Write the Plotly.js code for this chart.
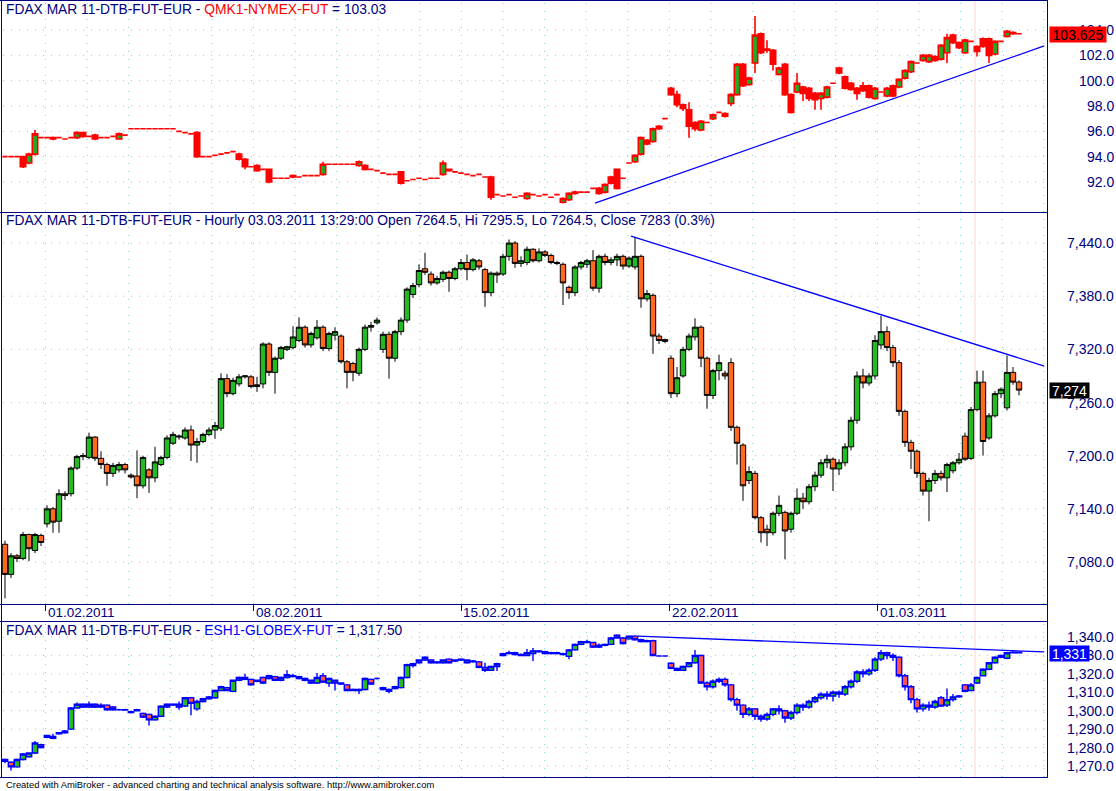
<!DOCTYPE html>
<html>
<head>
<meta charset="utf-8">
<script src="https://cdn.plot.ly/plotly-3.0.1.min.js"></script>
<style>
html,body{margin:0;padding:0;background:#ffffff;overflow:hidden;}
#chart{width:1116px;height:791px;}
</style>
</head>
<body>
<div id="chart"></div>
<script>
// ================= DATA (hourly bars) =================
// Panel 2: FDAX MAR 11 (main)
const fdaxOpen = [
7100,7066,7087,7084,7111,7093,7110,7123,7140,7126,
7157,7157,7186,7199,7198,7221,7197,7190,7180,7184,
7190,7178,7177,7166,7184,7175,7190,7198,7214,7221,
7220,7229,7212,7216,7224,7229,7231,7287,7270,7281,
7289,7289,7278,7281,7326,7294,7310,7320,7322,7330,
7345,7325,7333,7345,7321,7336,7335,7306,7304,7293,
7320,7345,7350,7320,7337,7310,7340,7353,7382,7393,
7411,7405,7395,7399,7407,7400,7411,7418,7410,7420,
7410,7384,7406,7405,7425,7440,7417,7418,7433,7420,
7430,7426,7418,7416,7390,7384,7413,7416,7420,7389,
7425,7418,7421,7425,7414,7413,7425,7377,7381,7335,
7331,7310,7270,7290,7320,7334,7345,7310,7268,7296,
7293,7305,7232,7212,7172,7180,7130,7117,7113,7135,
7136,7117,7135,7152,7148,7165,7178,7192,7196,7185,
7192,7210,7240,7290,7282,7290,7325,7340,7322,7305,
7250,7215,7205,7180,7160,7172,7180,7175,7183,7192,
7222,7197,7252,7283,7220,7245,7270,7254,7294,7283];
const fdaxHigh = [
7104,7090,7089,7114,7112,7113,7112,7144,7142,7162,
7160,7188,7201,7203,7226,7222,7205,7192,7192,7193,
7192,7180,7206,7200,7186,7210,7200,7223,7227,7224,
7232,7234,7220,7226,7232,7238,7293,7292,7288,7292,
7291,7291,7289,7328,7328,7312,7324,7324,7346,7356,
7347,7340,7353,7347,7340,7345,7337,7308,7306,7322,
7348,7351,7356,7340,7340,7342,7356,7390,7395,7416,
7429,7408,7403,7409,7409,7413,7422,7427,7423,7422,
7412,7408,7408,7428,7444,7442,7425,7436,7434,7434,
7432,7428,7420,7418,7392,7415,7420,7422,7432,7427,
7428,7424,7428,7427,7425,7447,7427,7387,7383,7338,
7332,7313,7300,7323,7338,7355,7347,7312,7298,7314,
7296,7310,7234,7214,7188,7183,7132,7122,7137,7155,
7138,7137,7163,7158,7168,7182,7196,7201,7198,7196,
7214,7244,7295,7298,7293,7336,7358,7346,7325,7308,
7252,7218,7207,7182,7175,7184,7183,7192,7194,7203,
7226,7255,7296,7296,7248,7273,7277,7313,7300,7285];
const fdaxLow = [
7039,7062,7080,7082,7081,7090,7098,7119,7113,7113,
7150,7154,7184,7195,7196,7194,7185,7166,7176,7181,
7180,7174,7152,7163,7158,7170,7188,7196,7212,7218,
7218,7194,7192,7214,7222,7219,7228,7266,7268,7278,
7287,7276,7272,7276,7290,7270,7308,7318,7320,7328,
7322,7322,7331,7318,7318,7330,7304,7276,7284,7290,
7318,7340,7348,7316,7287,7306,7336,7350,7378,7390,
7404,7392,7393,7396,7385,7398,7409,7398,7408,7410,
7368,7380,7395,7403,7420,7412,7413,7415,7418,7418,
7424,7416,7415,7370,7377,7380,7410,7412,7386,7384,
7415,7415,7414,7410,7412,7410,7367,7374,7315,7326,
7327,7265,7266,7288,7318,7330,7300,7253,7264,7285,
7286,7228,7190,7149,7168,7128,7102,7098,7110,7132,
7083,7113,7133,7140,7145,7160,7175,7186,7160,7178,
7188,7206,7236,7276,7279,7286,7320,7318,7300,7245,
7210,7185,7175,7155,7126,7168,7172,7159,7180,7190,
7194,7195,7250,7200,7218,7243,7265,7251,7280,7268];
const fdaxClose = [
7066,7087,7084,7111,7095,7111,7102,7140,7125,7157,
7155,7186,7199,7200,7221,7197,7190,7180,7189,7190,
7184,7176,7166,7198,7175,7193,7198,7220,7224,7222,
7229,7212,7216,7224,7229,7234,7287,7270,7285,7289,
7290,7278,7280,7326,7294,7310,7322,7323,7334,7345,
7325,7338,7345,7321,7338,7340,7306,7294,7294,7320,
7345,7347,7353,7337,7310,7340,7353,7388,7392,7409,
7407,7395,7400,7407,7400,7411,7418,7410,7421,7413,
7384,7406,7404,7425,7440,7417,7420,7433,7420,7430,
7426,7418,7417,7395,7384,7413,7418,7420,7389,7425,
7418,7421,7425,7414,7423,7425,7377,7383,7335,7330,
7329,7270,7288,7320,7335,7345,7310,7268,7296,7305,
7290,7232,7214,7166,7182,7130,7113,7113,7135,7144,
7115,7135,7152,7148,7165,7178,7192,7196,7185,7192,
7210,7240,7290,7282,7290,7330,7340,7322,7305,7250,
7215,7205,7180,7160,7172,7180,7175,7190,7192,7196,
7196,7252,7283,7216,7245,7270,7275,7294,7283,7274];

// Panel 1: QMK1-NYMEX-FUT
const qmOpen = [
94.0,94.0,94.0,94.0,93.5,94.2,95.5,95.5,95.4,95.5,
95.4,95.5,95.5,95.9,95.6,95.7,95.5,95.5,95.6,95.4,
95.7,96.2,96.2,96.2,96.2,96.2,96.2,96.2,96.2,96.0,
95.9,95.8,95.9,94.0,94.0,94.1,94.2,94.3,94.4,94.2,
93.8,93.2,93.3,93.0,93.0,92.3,92.3,92.3,92.4,92.4,
92.5,92.5,92.5,92.6,93.4,93.4,93.4,93.4,93.4,93.3,
93.3,93.0,92.9,92.7,92.6,92.6,92.8,92.1,92.2,92.3,
92.2,92.3,92.3,92.6,93.0,92.8,92.7,92.6,92.5,92.6,
92.4,92.4,91.0,90.9,91.0,90.8,90.9,90.7,91.0,90.9,
91.0,90.8,91.0,90.4,90.6,91.1,91.2,91.2,91.5,91.5,
91.2,92.4,93.0,92.3,93.5,93.6,94.2,95.3,95.2,96.2,
97.0,99.4,98.9,98.1,97.7,96.7,96.1,96.7,97.0,97.5,
97.2,98.2,98.9,101.3,99.7,101.4,103.7,102.5,102.4,100.5,
101.3,98.9,99.1,99.5,99.4,99.0,98.6,98.7,99.8,101.0,
100.3,99.8,99.4,99.6,99.6,98.6,99.1,98.8,99.6,99.5,
100.2,100.7,101.4,101.6,101.5,101.9,101.7,102.2,103.6,103.0,
102.2,103.1,102.7,103.3,103.3,102.1,103.1,103.5,103.8,103.7];
const qmHigh = [
94.0,94.0,94.0,94.0,94.3,96.1,95.5,95.5,95.6,95.5,
95.4,95.5,96.0,95.9,95.6,95.8,95.5,95.5,95.6,95.9,
95.7,96.2,96.2,96.2,96.2,96.2,96.2,96.2,96.2,96.0,
95.9,95.8,96.0,94.0,94.0,94.1,94.2,94.3,94.4,94.3,
93.9,93.2,93.4,93.0,93.0,92.3,92.3,92.3,92.6,92.4,
92.5,92.5,92.5,93.6,93.4,93.4,93.4,93.4,93.4,93.7,
93.4,93.0,92.9,92.7,92.6,92.6,92.8,92.1,92.2,92.3,
92.2,92.3,92.3,93.7,93.0,92.8,92.7,92.6,92.5,92.6,
92.4,92.5,91.0,90.9,91.0,90.8,90.9,91.2,91.0,90.9,
91.0,90.8,91.0,90.8,91.2,91.3,91.2,91.2,91.5,91.6,
91.9,92.5,93.0,92.3,93.5,94.2,95.6,95.4,96.3,96.5,
97.0,99.5,99.2,98.2,98.3,96.8,96.9,96.7,97.4,97.5,
97.5,99.0,101.4,101.4,100.3,105.1,103.8,103.2,102.5,101.1,
101.4,99.0,100.6,99.6,99.5,99.1,99.1,99.6,99.8,101.1,
100.4,99.9,99.5,99.9,99.7,99.5,99.1,99.5,99.7,100.2,
100.9,101.6,101.4,102.1,102.1,102.0,102.9,103.7,103.7,103.1,
103.3,103.1,102.8,103.4,103.4,103.2,103.1,104.0,103.9,103.7];
const qmLow = [
94.0,94.0,94.0,93.1,93.4,94.1,95.5,95.5,95.3,95.5,
95.4,95.5,95.4,95.5,95.6,95.3,95.5,95.5,95.6,95.4,
95.7,96.2,96.2,96.2,96.2,96.2,96.2,96.2,96.2,96.0,
95.9,95.8,93.9,94.0,94.0,94.1,94.2,94.3,94.4,93.7,
93.0,93.2,92.8,93.0,91.9,92.3,92.3,92.3,92.3,92.4,
92.5,92.5,92.5,92.5,93.4,93.4,93.4,93.4,93.4,93.2,
92.9,93.0,92.9,92.7,92.6,92.6,91.8,92.1,92.2,92.3,
92.2,92.3,92.3,92.5,92.8,92.8,92.7,92.6,92.5,92.6,
92.4,90.6,91.0,90.9,91.0,90.8,90.9,90.6,91.0,90.9,
91.0,90.8,91.0,90.3,90.5,91.0,91.2,91.2,91.5,91.0,
91.1,91.8,91.4,92.3,93.5,93.5,94.1,94.9,95.1,96.1,
97.0,98.8,97.9,97.6,95.5,96.0,96.0,96.7,96.9,97.5,
97.1,98.0,98.8,99.5,99.6,100.6,102.1,102.2,100.8,100.4,
98.8,97.4,99.0,98.4,98.4,97.7,97.7,98.6,99.8,100.5,
99.3,99.2,98.5,99.1,98.6,98.5,99.1,98.7,98.7,99.4,
100.1,100.6,101.4,101.5,101.4,101.5,101.6,101.4,102.9,102.5,
102.1,103.1,101.9,102.6,101.4,102.0,103.1,103.4,103.6,103.7];
const qmClose = [
94.0,94.0,94.0,93.2,94.2,95.8,95.5,95.5,95.5,95.5,
95.4,95.5,95.9,95.6,95.6,95.4,95.5,95.5,95.6,95.8,
95.7,96.2,96.2,96.2,96.2,96.2,96.2,96.2,96.2,96.0,
95.9,95.8,94.0,94.0,94.0,94.1,94.2,94.3,94.4,93.8,
93.2,93.2,92.9,93.0,92.0,92.3,92.3,92.3,92.5,92.4,
92.5,92.5,92.5,93.4,93.4,93.4,93.4,93.4,93.4,93.6,
93.0,93.0,92.9,92.7,92.6,92.6,91.9,92.1,92.2,92.3,
92.2,92.3,92.3,93.5,92.9,92.8,92.7,92.6,92.5,92.6,
92.4,90.8,91.0,90.9,91.0,90.8,90.9,91.1,91.0,90.9,
91.0,90.8,91.0,90.7,91.1,91.2,91.2,91.2,91.5,91.1,
91.8,91.9,91.5,92.3,93.5,94.1,95.5,95.0,96.2,96.4,
97.0,98.9,98.1,97.8,96.4,96.2,96.8,96.7,97.3,97.5,
97.4,98.9,101.3,99.6,100.2,103.6,102.2,102.4,101.3,101.0,
98.9,97.5,99.8,99.0,98.6,98.5,99.0,99.5,99.8,100.6,
99.4,99.3,99.0,99.2,98.7,99.4,99.1,99.4,98.8,100.1,
100.8,101.5,101.4,102.0,102.0,101.6,102.8,103.4,103.0,102.6,
103.2,103.1,102.3,102.7,102.0,103.1,103.1,103.9,103.7,103.7];

// Panel 3: ESH1-GLOBEX-FUT
const esOpen = [
1273.5,1272,1269.5,1273.5,1275,1277,1281.5,1285.5,1286,1287.5,
1288,1290,1301.5,1303.5,1302,1303.5,1302,1303,1302,1300.5,
1300.5,1299.5,1300,1298.5,1298,1295,1297,1302,1303,1303.5,
1302.5,1307,1301,1305,1306.5,1307,1311,1312.5,1310.5,1316.5,
1318,1317,1316,1318,1317.5,1318.5,1316.5,1318,1319,1318.5,
1317.5,1316.5,1315,1319,1315,1316.5,1315,1314,1311.5,1311,
1311.5,1317,1317.5,1312.5,1311.5,1312,1312.5,1318,1324.5,1326,
1327.5,1327.5,1326,1326,1328,1327,1327.5,1326,1327,1326.5,
1323.5,1322,1324,1330,1331,1331.5,1330.5,1330,1331,1332.5,
1332,1331,1331.5,1331,1329.5,1333,1336,1337.5,1337,1334.5,
1335.5,1336,1341,1339.5,1339,1340.5,1338.5,1337.5,1338,1329.7,
1329.7,1325.8,1323,1322,1324,1326,1330,1315,1313,1316,
1317,1314,1306,1303,1298,1301,1297,1295.5,1298,1301,
1300,1296,1299,1303,1302,1305,1307,1309,1308,1310,
1309,1313,1316,1321,1320,1322,1328,1331.5,1330,1329,
1319,1313,1306,1301,1303,1302,1307,1303,1306,1307.5,
1314,1311,1315,1319,1322.5,1326,1329,1328.5,1331.5,1331.8];
const esHigh = [
1274,1272.5,1274,1277,1277.5,1283.5,1282,1287,1287.5,1288.5,
1289.5,1302,1304.5,1304,1305,1304,1304,1303.5,1302.5,1301,
1301,1300,1301,1299,1298.5,1297.5,1303,1304,1304,1305,
1307.5,1307.5,1306,1307,1308,1311.5,1313.5,1313,1317,1318.5,
1320,1317.5,1317,1318.5,1319.5,1319,1318.5,1322,1320,1319,
1318,1317,1320.5,1320.5,1318,1317,1315.5,1314.5,1312,1312,
1318,1317.5,1318,1313,1312,1313.5,1318.5,1325.5,1326,1328,
1329.5,1328,1327,1328,1328.5,1328,1328.5,1328,1327.5,1327,
1326,1324.5,1326,1331.5,1332.5,1332,1331,1333.5,1334,1333,
1332.5,1332,1332,1331.5,1333.5,1336.5,1338,1338.5,1337.5,1336.5,
1336.5,1340,1341.5,1340,1341,1341,1339,1338.5,1338.5,1329.7,
1329.7,1326.3,1323.5,1324.5,1326.5,1333,1330.5,1316,1317,1318,
1318,1314.5,1307,1303.5,1302,1301.5,1298,1299,1301.5,1303,
1300.5,1300,1304,1304,1306,1308,1310,1310.5,1311,1311,
1314,1317,1322,1322.5,1323,1329,1333,1332,1331,1329.5,
1320,1314,1307,1304,1305,1306,1308,1312,1309,1308.5,
1314.5,1315,1318.5,1323,1326.5,1329.5,1330.5,1332,1332.5,1332];
const esLow = [
1271.5,1267.5,1269,1273,1274.5,1276.5,1279.5,1285,1284.5,1287,
1287.5,1289.5,1301,1301.5,1301.5,1301.5,1301.5,1300,1300,1300,
1300,1298.5,1299.5,1296,1292,1294.5,1296.5,1301.5,1302.5,1300.5,
1302,1297.5,1300,1304.5,1306,1306.5,1310.5,1310.5,1310,1316,
1316.5,1313.5,1315.5,1314.5,1317,1316,1316,1317.5,1318,1317,
1316,1314.5,1314.5,1315,1313,1311,1314,1310.5,1310.5,1309,
1311,1314,1317,1311,1309.5,1311.5,1312,1317.5,1323.5,1325.5,
1327,1325.5,1325.5,1325.5,1325.5,1326.5,1327,1325.5,1326,1323,
1321,1321.5,1321.5,1329.5,1330.5,1330,1329.5,1329.5,1327,1331.5,
1330.5,1330.5,1330.5,1330,1328,1332.5,1335.5,1336.5,1334,1334,
1335,1335.5,1339,1336,1338.5,1338,1337,1337,1329.5,1329.7,
1329.7,1322.5,1321.5,1321.5,1323.5,1325.5,1314.5,1311,1312,1315,
1313,1305,1300,1296,1297,1295,1294,1294.5,1297,1298,
1293.5,1295,1298,1300,1301,1304,1306,1306,1305,1307,
1308,1312,1315,1318,1319,1321,1327,1328,1327,1318,
1311,1304,1299,1299.5,1300,1301,1302,1302,1305,1307,
1310,1310.5,1314.5,1318.5,1322,1325.5,1328.5,1328,1331,1331];
const esClose = [
1272.5,1269.5,1273.5,1276.5,1277,1282.5,1280,1286.5,1285,1288,
1289,1301.5,1303.5,1302,1303.5,1302,1303,1300.5,1300.5,1300.5,
1300.3,1299,1300.5,1296.5,1295,1297,1302.5,1303.5,1303.5,1302,
1307,1304,1305,1306.5,1307.5,1311,1313,1311,1316.5,1318,
1317,1314,1316.5,1315,1319,1316.5,1318,1319.5,1318.5,1317.5,
1316.5,1315,1318,1315.5,1317.5,1315,1314.5,1311,1311,1311.5,
1317.5,1314.5,1317.5,1311.5,1310.5,1313,1318,1325,1325.5,1327.5,
1329,1326,1326.5,1327.5,1326,1327.5,1328,1327.5,1326.5,1323.5,
1322,1324,1325.5,1331,1331.5,1330.5,1330,1331.5,1332.5,1332,
1331,1331.5,1331,1330.5,1333,1336,1337.5,1337,1334.5,1335.5,
1336,1339.5,1339.5,1336.5,1340.5,1338.5,1337.5,1338,1330,1329.7,
1329.7,1323,1322,1324,1326,1330,1315,1313,1316,1317,
1314,1306,1303,1298,1301,1297,1295.5,1298,1301,1300,
1296,1299,1303,1302,1305,1307,1309,1308,1310,1309,
1313,1316,1321,1320,1322,1328,1331.5,1330,1329,1319,
1313,1306,1301,1303,1302,1305,1302.5,1306,1307.5,1308,
1310.5,1314,1318,1322.5,1326,1329,1330,1331.5,1331.8,1331.5];

// Axis ticks / labels
const qmTicks   = [104, 102, 100, 98, 96, 94, 92];
const fdaxTicks = [7440, 7380, 7320, 7260, 7200, 7140, 7080];
const esTicks   = [1340, 1330, 1320, 1310, 1300, 1290, 1280, 1270];
const dateLabels = ['01.02.2011', '08.02.2011', '15.02.2011', '22.02.2011', '01.03.2011'];
const dateBarPos = [6.75, 41.42, 76.08, 110.75, 145.42];

// Trend lines (bar position, price)
const qmTrendX   = [98.33, 173.2];   const qmTrendY   = [90.34, 102.74];
const fdaxTrendX = [104.33, 173.2];  const fdaxTrendY = [7447.9, 7301.2];
const esTrendX   = [105.5, 173.2];   const esTrendY   = [1340.5, 1331.9];

// Last values / selected bar
const qmLastText = '103.625';  const qmLast = 103.625;
const fdaxLastText = '7,274';  const fdaxLast = 7274;
const esLastText = '1,331';    const esLast = 1331;
const selectedBar = 161.67;

const title1 = 'FDAX MAR 11-DTB-FUT-EUR - <span style="color:#ff0000">QMK1-NYMEX-FUT</span> = 103.03';
const title2 = 'FDAX MAR 11-DTB-FUT-EUR - Hourly 03.03.2011 13:29:00 Open 7264.5, Hi 7295.5, Lo 7264.5, Close 7283 (0.3%)';
const title3 = 'FDAX MAR 11-DTB-FUT-EUR - <span style="color:#0000ff">ESH1-GLOBEX-FUT</span> = 1,317.50';
const footer = 'Created with AmiBroker - advanced charting and technical analysis software. http://www.amibroker.com';

// ================= LAYOUT HELPERS =================
const W = 1116, H = 791, PL = 1, PR = 1047;
function px2x(X) { return (X - PL) / (PR - PL); }
function px2y(Y) { return 1 - Y / H; }
const NAVY = '#000080';
const GRID = '#6fd8d8';
const DOTS = '1px,7px';
const FONT = '"Liberation Sans", Arial, sans-serif';
const bars = fdaxClose.map((_, i) => i);

function candle(o, h, l, c, ya, lineUp, lineDn, fillUp, fillDn, lw) {
  return {
    type: 'candlestick', x: bars, open: o, high: h, low: l, close: c,
    xaxis: 'x', yaxis: ya, whiskerwidth: 0, hoverinfo: 'none', showlegend: false,
    increasing: { line: { color: lineUp, width: lw }, fillcolor: fillUp },
    decreasing: { line: { color: lineDn, width: lw }, fillcolor: fillDn }
  };
}
function trend(x, y, ya) {
  return { type: 'scatter', mode: 'lines', x: x, y: y, xaxis: 'x', yaxis: ya,
    line: { color: '#0000ff', width: 1.3 }, hoverinfo: 'none', showlegend: false };
}

const traces = [
  candle(qmOpen, qmHigh, qmLow, qmClose, 'y', '#ff0000', '#ff0000', '#22aa22', '#ff0000', 1.6),
  candle(fdaxOpen, fdaxHigh, fdaxLow, fdaxClose, 'y2', '#000000', '#000000', '#22bb22', '#ff6a20', 1),
  candle(esOpen, esHigh, esLow, esClose, 'y3', '#0000ff', '#0000ff', '#22bb22', '#ff5050', 1.4),
  trend(qmTrendX, qmTrendY, 'y'),
  trend(fdaxTrendX, fdaxTrendY, 'y2'),
  trend(esTrendX, esTrendY, 'y3')
];

function yax(domain, range, ticks) {
  return {
    domain: domain, range: range, autorange: false, anchor: 'x', side: 'right',
    tickmode: 'array', tickvals: ticks, showticklabels: false, ticks: '',
    showgrid: false, zeroline: false, showline: false, fixedrange: true
  };
}

const annotations = [];
function axisLabels(ticks, yref, fmt) {
  ticks.forEach(v => annotations.push({
    xref: 'paper', x: px2x(1115), xanchor: 'right', yref: yref, y: v, yanchor: 'middle',
    text: fmt(v), showarrow: false, font: { family: FONT, size: 14, color: NAVY }, borderpad: 0
  }));
}
const f1 = v => v.toFixed(1);
const f2 = v => v.toLocaleString('en-US', { minimumFractionDigits: 1, maximumFractionDigits: 1 });
axisLabels(qmTicks, 'y', f1);
axisLabels(fdaxTicks, 'y2', f2);
axisLabels(esTicks, 'y3', f2);

function lastBox(txt, v, yref, bg, fg, w) {
  annotations.push({
    xref: 'paper', x: px2x(1049), xanchor: 'left', yref: yref, y: v, yanchor: 'middle',
    text: txt, showarrow: false, bgcolor: bg, width: w, height: 15, borderpad: 0, align: 'center',
    font: { family: FONT, size: 14, color: fg }
  });
}
lastBox(qmLastText, qmLast, 'y', '#ff0000', '#000000', 56);
lastBox(fdaxLastText, fdaxLast, 'y2', '#000000', '#ffffff', 39);
lastBox(esLastText, esLast, 'y3', '#0000ff', '#ffffff', 39);

dateLabels.forEach((t, k) => annotations.push({
  xref: 'x', x: dateBarPos[k], xanchor: 'left', xshift: 1, yref: 'paper', y: px2y(612.5), yanchor: 'middle',
  text: t, showarrow: false, borderpad: 0, font: { family: FONT, size: 13.5, color: NAVY }
}));

function title(txt, Y, size, color) {
  annotations.push({
    xref: 'paper', x: px2x(5), xanchor: 'left', yref: 'paper', y: px2y(Y), yanchor: 'middle',
    text: txt, showarrow: false, borderpad: 0, font: { family: FONT, size: size, color: color }
  });
}
title(title1, 9, 13.8, NAVY);
title(title2, 221, 13.8, NAVY);
title(title3, 630, 13.8, NAVY);
title(footer, 784, 9.4, '#000000');

const shapes = [];
// dotted grid (drawn under the bars)
const panels = [['y', qmTicks], ['y2', fdaxTicks], ['y3', esTicks]];
panels.forEach(([ya, ticks]) => {
  ticks.forEach(v => shapes.push({ type: 'line', layer: 'below', xref: 'paper', yref: ya,
    x0: px2x(3), x1: 1, y0: v, y1: v, line: { color: GRID, width: 1, dash: DOTS } }));
  for (let g = 6.75; g < 173.5; g += 6.9333) {
    shapes.push({ type: 'line', layer: 'below', xref: 'x', yref: ya + ' domain',
      x0: g, x1: g, y0: 0, y1: 1, line: { color: GRID, width: 1, dash: DOTS } });
  }
});
shapes.push({ type: 'line', xref: 'x', yref: 'paper', x0: selectedBar, x1: selectedBar,
  y0: px2y(777), y1: px2y(0), line: { color: '#ffd4d4', width: 1 }, layer: 'below' });
const hLines = [0.5, 212.5, 604.5, 621.5, 777.5];
hLines.forEach(Y => shapes.push({ type: 'line', xref: 'paper', yref: 'paper',
  x0: px2x(0), x1: px2x(1048), y0: px2y(Y), y1: px2y(Y), line: { color: NAVY, width: 1 } }));
[1.5, 1047.5].forEach(X => shapes.push({ type: 'line', xref: 'paper', yref: 'paper',
  x0: px2x(X), x1: px2x(X), y0: px2y(0), y1: px2y(778), line: { color: NAVY, width: 1 } }));

const layout = {
  width: W, height: H, margin: { l: PL, r: W - PR, t: 0, b: 0, pad: 0 },
  paper_bgcolor: '#ffffff', plot_bgcolor: '#ffffff', showlegend: false, hovermode: false,
  boxgap: 0.1, boxgroupgap: 0,
  font: { family: FONT, size: 14, color: NAVY },
  xaxis: {
    anchor: 'y2', range: [-0.6667, 173.6667], autorange: false, fixedrange: true,
    rangeslider: { visible: false },
    tickmode: 'array', tickvals: dateBarPos, ticks: 'outside', ticklen: 6, tickwidth: 1, tickcolor: NAVY,
    showticklabels: false, showgrid: false, zeroline: false, showline: false
  },
  yaxis:  yax([px2y(212), px2y(1)],   [89.632, 106.289], qmTicks),
  yaxis2: yax([px2y(604), px2y(213)], [7032.6, 7473.9], fdaxTicks),
  yaxis3: yax([px2y(777), px2y(621)], [1264.0, 1348.7], esTicks),
  shapes: shapes,
  annotations: annotations
};

Plotly.newPlot('chart', traces, layout, { staticPlot: true, displayModeBar: false });
</script>
</body>
</html>
